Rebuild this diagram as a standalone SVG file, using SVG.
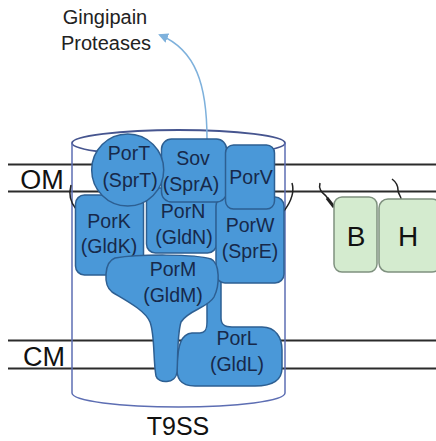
<svg xmlns="http://www.w3.org/2000/svg" width="436" height="441" viewBox="0 0 436 441">
<defs>
<style>
.mem{stroke:#2b2b2b;stroke-width:2;fill:none}
.cyl{stroke:#5d6eb3;stroke-width:1.5;fill:none}
.node{fill:#4a98d8;stroke:#2d5f92;stroke-width:1.5}
.lbl{font-family:"Liberation Sans",Arial,sans-serif;font-size:19.5px;fill:#17294a;text-anchor:middle}
.big{font-family:"Liberation Sans",Arial,sans-serif;fill:#111;text-anchor:middle}
.green{fill:#d4ebcf;stroke:#7f917f;stroke-width:1.5}
.teth{stroke:#222;stroke-width:1.5;fill:none}
</style>
<marker id="ah" markerWidth="10" markerHeight="10" refX="8" refY="5" orient="auto" markerUnits="userSpaceOnUse">
<path d="M0,0 L10,5 L0,10 Z" fill="#7eb1dc"/>
</marker>
</defs>

<g id="membranes">
<line class="mem" x1="8" y1="164.5" x2="436" y2="164.5"/>
<line class="mem" x1="8" y1="191.5" x2="436" y2="191.5"/>
<line class="mem" x1="8" y1="340.5" x2="436" y2="340.5"/>
<line class="mem" x1="8" y1="368.5" x2="436" y2="368.5"/>
<text class="big" x="42" y="189" font-size="27">OM</text>
<text class="big" x="44" y="366" font-size="27">CM</text>
</g>

<g id="cylinder">
<ellipse cx="178.5" cy="143" rx="106.5" ry="13" stroke="#46558f" stroke-width="1.8" fill="none"/>
<line class="cyl" x1="72" y1="143" x2="72" y2="393"/>
<line class="cyl" x1="285" y1="143" x2="285" y2="393"/>
<path class="cyl" d="M72,393 A106.5,14 0 0 0 285,393" stroke="#46558f"/>
<text class="big" x="178" y="435" font-size="25">T9SS</text>
</g>

<g id="connectors">
<path d="M207,139 C207,85 196,50 160,35" stroke="#7eb1dc" stroke-width="1.5" fill="none" marker-end="url(#ah)"/>
<path class="teth" d="M71,185 C68,196 71,203 76,209"/>
<path class="teth" d="M292,183 C295,193 290,203 284,211"/>
<path class="teth" d="M320,183 C318,190 323,193 326,196 L334,207"/>
<path d="M327,198 L334,207" stroke="#222" stroke-width="3"/>
<path class="teth" d="M392,179 C396,182 398,186 398,190 C398,194 401,196 401,199"/>
</g>

<g id="PorL">
<path class="node" d="M207,280 L221,280 L221,318 C221,325 225,327 232,327 L262,327 C276,327 282,338 282,350 L282,368 C282,382 270,386 255,386 L195,386 C180,386 176,378 177,365 C178,345 181,334 192,333 L200,333 C205,333 207,330 207,322 Z"/>
<text class="lbl" x="237" y="345">PorL</text>
<text class="lbl" x="237" y="371">(GldL)</text>
</g>

<g id="PorK">
<rect class="node" x="75.5" y="195" width="68" height="80" rx="9"/>
<text class="lbl" x="109" y="228">PorK</text>
<text class="lbl" x="109" y="253">(GldK)</text>
</g>

<g id="PorN">
<rect class="node" x="146.5" y="188" width="70" height="65" rx="9"/>
<text class="lbl" x="183" y="218">PorN</text>
<text class="lbl" x="184" y="244">(GldN)</text>
</g>

<g id="PorW">
<rect class="node" x="216" y="197" width="68" height="86" rx="9"/>
<text class="lbl" x="250" y="232">PorW</text>
<text class="lbl" x="250" y="258">(SprE)</text>
</g>

<g id="PorM">
<path class="node" d="M115,258 C140,254 195,254 211,259 C220,263 220,285 214,297 C208,308 188,310 181,322 C177,335 178,360 177,372 C176,384 158,384 156,376 C153,360 155,335 150,322 C145,310 125,300 112,292 C103,285 104,262 115,258 Z"/>
<text class="lbl" x="173" y="276">PorM</text>
<text class="lbl" x="173" y="302">(GldM)</text>
</g>

<g id="Sov">
<rect class="node" x="161.5" y="139" width="65" height="63" rx="10"/>
<text class="lbl" x="193" y="165">Sov</text>
<text class="lbl" x="191" y="191">(SprA)</text>
</g>

<g id="PorT">
<circle class="node" cx="127.7" cy="170" r="36"/>
<text class="lbl" x="129" y="160">PorT</text>
<text class="lbl" x="130" y="187">(SprT)</text>
</g>

<g id="PorV">
<rect class="node" x="225.5" y="145" width="49" height="64" rx="8"/>
<text class="lbl" x="251" y="184">PorV</text>
</g>

<g id="B">
<rect class="green" x="334" y="197" width="43" height="75" rx="8"/>
<text class="big" x="356" y="246" font-size="28">B</text>
</g>

<g id="H">
<rect class="green" x="379" y="199" width="62" height="73" rx="9"/>
<text class="big" x="408" y="246" font-size="28">H</text>
</g>

<g id="label">
<text font-family="Liberation Sans,Arial,sans-serif" font-size="20" fill="#222" text-anchor="middle" x="105" y="24">Gingipain</text>
<text font-family="Liberation Sans,Arial,sans-serif" font-size="20" fill="#222" text-anchor="middle" x="106" y="50">Proteases</text>
</g>
</svg>
